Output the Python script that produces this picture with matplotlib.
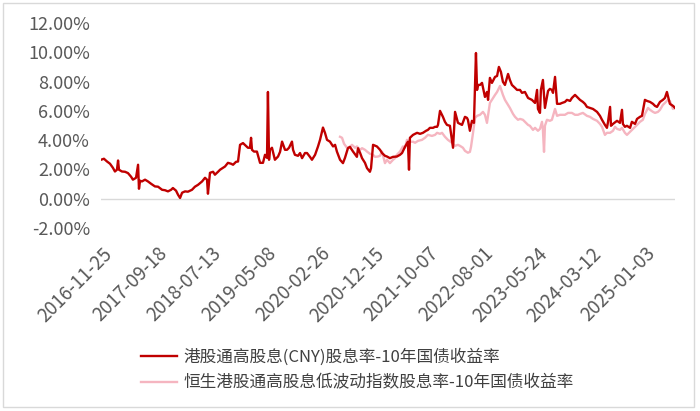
import matplotlib
matplotlib.use("Agg")
import matplotlib.pyplot as plt
import pandas as pd
from matplotlib.patches import Rectangle
from matplotlib.ticker import FuncFormatter
from matplotlib.transforms import ScaledTranslation

plt.rcParams["font.family"] = ["Noto Sans CJK SC", "DejaVu Sans"]

START = "2016-11-25"

# days after START
red_days = [
    0, 16, 33, 49, 65, 76, 87, 93, 98, 114, 131, 147, 164, 174, 191, 202, 207, 213, 223, 240,
    256, 273, 294, 311, 333, 349, 365, 382, 392, 409, 420, 431, 442, 458, 474, 496, 512, 529, 551, 567,
    578, 583, 594, 611, 621, 638, 649, 665, 676, 692, 709, 720, 736, 747, 758, 774, 790, 801, 812, 818,
    823, 834, 850, 867, 883, 894, 905, 910, 916, 921, 932, 948, 965, 976, 987, 1003, 1014, 1025, 1041, 1047,
    1057, 1074, 1085, 1096, 1112, 1123, 1139, 1150, 1167, 1183, 1194, 1210, 1221, 1232, 1248, 1265, 1276, 1286, 1303, 1319,
    1330, 1346, 1357, 1374, 1395, 1401, 1412, 1423, 1439, 1450, 1466, 1472, 1483, 1504, 1521, 1532, 1548, 1559, 1575, 1592,
    1613, 1630, 1641, 1657, 1673, 1679, 1684, 1701, 1723, 1739, 1755, 1772, 1782, 1793, 1810, 1821, 1832, 1837, 1848, 1864,
    1875, 1886, 1902, 1919, 1930, 1946, 1957, 1968, 1984, 1995, 2000, 2011, 2022, 2033, 2044, 2050, 2055, 2066, 2077, 2093,
    2104, 2110, 2120, 2131, 2148, 2159, 2169, 2180, 2191, 2202, 2219, 2229, 2240, 2257, 2268, 2284, 2295, 2311, 2328, 2349,
    2366, 2377, 2382, 2393, 2398, 2409, 2420, 2437, 2447, 2458, 2464, 2475, 2486, 2502, 2513, 2529, 2540, 2557, 2567, 2584,
    2595, 2611, 2627, 2638, 2649, 2666, 2682, 2704, 2720, 2731, 2747, 2758, 2764, 2775, 2780, 2791, 2813, 2829, 2840, 2845,
    2856, 2867, 2884, 2894, 2911, 2922, 2938, 2949, 2965, 2976, 2993, 3009, 3020, 3031, 3047, 3063, 3074, 3085, 3101, 3118,
    3129,
]
red_vals = [
    2.66, 2.73, 2.54, 2.39, 2.11, 1.86, 1.98, 2.61, 1.98, 1.86, 1.84, 1.75, 1.50, 1.30, 1.43, 2.32, 0.68, 1.23, 1.18, 1.30,
    1.18, 1.02, 0.84, 0.82, 0.61, 0.58, 0.50, 0.61, 0.73, 0.55, 0.27, 0.05, 0.41, 0.50, 0.48, 0.61, 0.82, 0.95, 1.18, 1.43,
    1.30, 0.34, 1.77, 1.84, 1.64, 1.84, 1.98, 2.11, 2.20, 2.45, 2.39, 2.32, 2.52, 2.54, 3.68, 3.80, 3.61, 3.48, 3.48, 4.16,
    3.34, 3.22, 3.22, 2.45, 2.45, 3.00, 2.79, 7.29, 2.66, 3.34, 3.48, 2.66, 2.88, 3.20, 3.90, 3.34, 3.34, 3.48, 3.90, 3.34,
    3.00, 2.93, 3.12, 2.77, 3.12, 3.12, 2.86, 2.66, 3.00, 3.57, 4.02, 4.86, 4.50, 4.02, 3.90, 3.57, 3.68, 3.22, 2.66, 2.43,
    2.79, 3.45, 3.54, 3.22, 2.86, 3.45, 3.14, 2.77, 2.45, 2.09, 1.84, 2.09, 3.68, 3.57, 3.34, 3.12, 2.93, 2.88, 2.77, 2.86,
    2.88, 3.00, 3.12, 3.54, 3.89, 1.98, 4.16, 4.36, 4.50, 4.43, 4.50, 4.64, 4.70, 4.84, 4.84, 4.91, 4.91, 5.04, 6.00, 5.59,
    5.25, 5.04, 4.98, 3.48, 5.93, 5.18, 5.11, 5.04, 5.59, 5.52, 5.39, 4.64, 5.32, 5.18, 9.95, 7.43, 7.77, 7.77, 7.91, 6.95,
    7.29, 6.75, 8.25, 7.91, 8.32, 8.38, 9.00, 8.66, 7.98, 7.77, 8.52, 8.11, 7.77, 7.57, 7.43, 7.43, 7.23, 7.29, 6.88, 6.75,
    6.54, 7.43, 6.13, 5.86, 7.43, 8.11, 6.20, 7.36, 7.50, 7.43, 7.23, 8.32, 6.48, 6.48, 6.54, 6.61, 6.75, 6.68, 6.88, 7.09,
    6.95, 6.75, 6.61, 6.48, 6.27, 6.20, 6.13, 5.93, 5.66, 5.39, 5.04, 4.84, 5.25, 6.27, 4.98, 5.11, 5.32, 5.18, 6.07, 5.11,
    4.91, 4.98, 4.84, 5.25, 5.11, 5.45, 5.59, 5.66, 6.75, 6.68, 6.61, 6.48, 6.34, 6.27, 6.61, 6.75, 6.88, 7.29, 6.48, 6.34,
    6.20,
]

pink_days = [
    1303, 1314, 1325, 1341, 1357, 1368, 1385, 1395, 1412, 1423, 1439, 1450, 1466, 1483, 1494, 1510, 1521, 1532, 1548, 1559,
    1575, 1592, 1603, 1613, 1630, 1646, 1657, 1668, 1684, 1701, 1712, 1728, 1750, 1766, 1782, 1804, 1821, 1832, 1848, 1859,
    1875, 1891, 1913, 1930, 1946, 1957, 1973, 1984, 2000, 2011, 2017, 2028, 2039, 2050, 2066, 2082, 2093, 2104, 2120, 2137,
    2148, 2159, 2175, 2191, 2202, 2219, 2229, 2246, 2257, 2273, 2284, 2300, 2311, 2328, 2338, 2355, 2366, 2382, 2393, 2404,
    2409, 2415, 2420, 2431, 2447, 2458, 2475, 2486, 2502, 2529, 2546, 2567, 2584, 2600, 2611, 2627, 2649, 2666, 2682, 2704,
    2720, 2731, 2747, 2758, 2775, 2791, 2802, 2813, 2829, 2840, 2856, 2867, 2884, 2894, 2911, 2922, 2938, 2954, 2965, 2982,
    2993, 3009, 3020, 3036, 3047, 3063, 3074, 3090, 3101, 3118, 3129,
]
pink_vals = [
    4.23, 4.16, 3.75, 3.48, 3.54, 3.68, 3.48, 3.57, 3.34, 3.45, 3.34, 3.22, 3.07, 3.00, 2.86, 2.88, 2.93, 3.22, 2.43, 2.66,
    2.43, 2.66, 2.77, 3.00, 3.22, 3.57, 3.48, 4.02, 3.89, 3.89, 3.82, 3.95, 4.02, 4.16, 4.36, 4.29, 4.36, 4.50, 4.43, 4.50,
    4.23, 4.02, 3.82, 3.61, 3.68, 3.61, 3.48, 3.27, 3.14, 3.20, 3.54, 4.50, 5.52, 5.66, 5.73, 5.93, 5.73, 5.18, 6.54, 6.88,
    7.09, 7.29, 7.70, 7.09, 6.75, 6.41, 6.20, 5.79, 5.59, 5.39, 5.45, 5.39, 5.25, 5.04, 4.98, 4.70, 4.84, 4.64, 4.77, 5.25,
    4.70, 3.20, 4.98, 5.39, 5.32, 5.39, 6.13, 5.66, 5.73, 5.73, 5.86, 5.86, 5.73, 5.73, 5.79, 5.86, 5.66, 5.59, 5.45, 5.32,
    5.11, 4.91, 4.36, 4.50, 4.50, 4.64, 4.91, 4.77, 4.70, 4.84, 4.50, 4.36, 4.57, 4.70, 4.91, 5.04, 5.25, 5.39, 5.79, 6.20,
    6.07, 5.93, 5.86, 5.93, 6.07, 6.41, 6.54, 6.75, 6.68, 6.13, 6.27,
]

tick_labels = [
    "2016-11-25", "2017-09-18", "2018-07-13", "2019-05-08", "2020-02-26", "2020-12-15",
    "2021-10-07", "2022-08-01", "2023-05-24", "2024-03-12", "2025-01-03",
]

red_name = "港股通高股息(CNY)股息率-10年国债收益率"
pink_name = "恒生港股通高股息低波动指数股息率-10年国债收益率"

start = pd.Timestamp(START)
red_x = start + pd.to_timedelta(red_days, unit="D")
pink_x = start + pd.to_timedelta(pink_days, unit="D")

fig = plt.figure(figsize=(7, 4.11), dpi=100)
ax = fig.add_axes([101 / 700, 1 - 228 / 411, 574 / 700, 205 / 411])

ax.plot(red_x, red_vals, color="#C00000", lw=1.7, label=red_name, zorder=3)
ax.plot(pink_x, pink_vals, color="#F5B5C0", lw=1.7, label=pink_name, zorder=2)
ax.axhline(0, color="#d9d9d9", lw=1, zorder=1)

ax.set_xlim(red_x[0], red_x[-1])
ax.set_ylim(-2, 12)
ax.set_yticks(range(-2, 13, 2))
ax.yaxis.set_major_formatter(FuncFormatter(lambda v, _: f"{v:.2f}%"))
ax.tick_params(axis="y", length=0, pad=8, labelsize=13, labelcolor="#595959")

ax.set_xticks(pd.to_datetime(tick_labels))
ax.set_xticklabels(tick_labels, rotation=45, ha="right", va="top", rotation_mode="anchor")
ax.tick_params(axis="x", length=0, pad=11, labelsize=13.5, labelcolor="#595959")
shift = ScaledTranslation(1 / 100, 0, fig.dpi_scale_trans)
for lab in ax.get_xticklabels():
    lab.set_transform(lab.get_transform() + shift)

for s in ax.spines.values():
    s.set_visible(False)

fig.legend(loc="upper left", bbox_to_anchor=(141 / 700, 1 - 348 / 411), frameon=False,
           fontsize=12, handlelength=2.15, handletextpad=0.4, labelspacing=0.55,
           borderpad=0, borderaxespad=0, labelcolor="#404040")

fig.patches.append(Rectangle((3 / 700, 1 - 407 / 411), 691 / 700, 404 / 411, transform=fig.transFigure,
                             fill=False, edgecolor="#d9d9d9", lw=1))

fig.savefig("out.png", dpi=100)
